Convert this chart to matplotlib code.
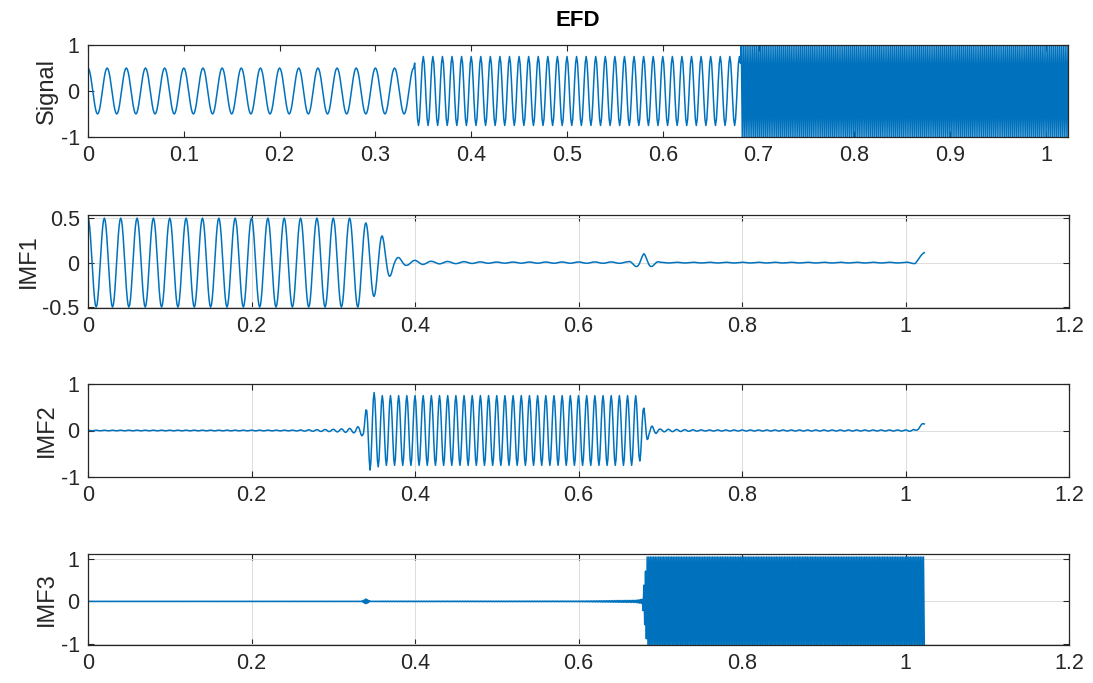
import matplotlib
matplotlib.use('Agg')
import matplotlib.pyplot as plt
import numpy as np

plt.rcParams['font.family'] = ['Liberation Sans', 'DejaVu Sans']

# sampling: 1024 samples at 1 kHz
fs = 1000.0
n_samples = 1024

# three tones, one after another
seg_edges = [0.0, 0.341, 0.682, 1.024]
seg_freq = [50, 100, 500]
seg_amp = [0.5, 0.75, 1.0]

# envelope knots (time, amplitude)
imf1_env_t = [0, 0.33, 0.345, 0.36, 0.375, 0.39, 0.42, 0.5, 0.66, 0.672, 0.68, 0.688, 0.70, 1.0, 1.023]
imf1_env_a = [0.5, 0.5, 0.42, 0.3, 0.07, 0.03, 0.015, 0.006, 0.008, 0.05, 0.1, 0.05, 0.004, 0.004, 0.02]
imf2_env_t = [0, 0.25, 0.30, 0.325, 0.336, 0.345, 0.36, 0.67, 0.678, 0.686, 0.70, 0.75, 1.0, 1.023]
imf2_env_a = [0.006, 0.008, 0.025, 0.05, 0.12, 0.85, 0.75, 0.75, 0.6, 0.12, 0.03, 0.012, 0.012, 0.03]
imf3_env_t = [0, 0.335, 0.34, 0.345, 0.36, 0.6, 0.67, 0.678, 0.684, 1.023]
imf3_env_a = [0.004, 0.005, 0.06, 0.005, 0.006, 0.008, 0.025, 0.05, 1.05, 1.05]
# little end effect at t = 1.023
imf_edge = [0.1, 0.15, 0.0]

imf_names = ['IMF1', 'IMF2', 'IMF3']
imf_env = [(imf1_env_t, imf1_env_a), (imf2_env_t, imf2_env_a), (imf3_env_t, imf3_env_a)]
imf_yticks = [[-0.5, 0, 0.5], [-1, 0, 1], [-1, 0, 1]]
imf_ylim = [(-0.51, 0.535), (-1, 1), (-1.03, 1.12)]

t = np.arange(n_samples) / fs

signal = np.zeros_like(t)
for i in range(3):
    m = (t >= seg_edges[i]) & (t < seg_edges[i + 1])
    signal[m] = seg_amp[i] * np.cos(2 * np.pi * seg_freq[i] * t[m])

ramp = np.clip((t - 1.012) / 0.011, 0, 1)
imfs = []
for i in range(3):
    env = np.interp(t, imf_env[i][0], imf_env[i][1])
    y = env * np.cos(2 * np.pi * seg_freq[i] * t)
    y = y + imf_edge[i] * ramp
    imfs.append(y)

col = '#0072BD'
W, H = 1093, 683
fig = plt.figure(figsize=(W / 100, H / 100), dpi=100)

def style(ax, grid=True):
    ax.tick_params(direction='in', top=True, right=True, length=4,
                   labelsize=15.5, colors='#262626', pad=6)
    for s in ax.spines.values():
        s.set_color('#262626')
        s.set_linewidth(0.9)
    if grid:
        ax.grid(True, color='#dcdcdc', linewidth=0.7)
        ax.set_axisbelow(True)

# [left, top, right, bottom] in pixels
boxes = [(88, 45, 1068, 137), (88, 215, 1069, 308), (88, 384, 1069, 477), (88, 554, 1069, 645)]
axes = []
for (l, tp, r, b) in boxes:
    axes.append(fig.add_axes([l / W, 1 - b / H, (r - l) / W, (b - tp) / H]))

ax = axes[0]
ax.plot(t, signal, color=col, linewidth=1.1)
ax.set_xlim(0, 1.023)
ax.set_ylim(-1, 1)
ax.set_xticks(np.arange(0, 1.01, 0.1))
ax.set_xticklabels(['%g' % v for v in np.round(np.arange(0, 1.01, 0.1), 1)])
ax.set_yticks([-1, 0, 1])
ax.set_yticklabels(['-1', '0', '1'])
ax.set_ylabel('Signal', fontsize=17, color='#262626', labelpad=2)
ax.set_title('EFD', fontsize=16, fontweight='bold', pad=14)
style(ax, grid=False)

xt = np.round(np.arange(0, 1.21, 0.2), 1)
for i in range(3):
    ax = axes[i + 1]
    ax.plot(t, imfs[i], color=col, linewidth=1.1)
    ax.set_xlim(0, 1.2)
    ax.set_ylim(*imf_ylim[i])
    ax.set_xticks(xt)
    ax.set_xticklabels(['%g' % v for v in xt])
    ax.set_yticks(imf_yticks[i])
    ax.set_yticklabels(['%g' % v for v in imf_yticks[i]])
    ax.set_ylabel(imf_names[i], fontsize=17, color='#262626', labelpad=2)
    style(ax)

fig.savefig('out.png', dpi=100)
